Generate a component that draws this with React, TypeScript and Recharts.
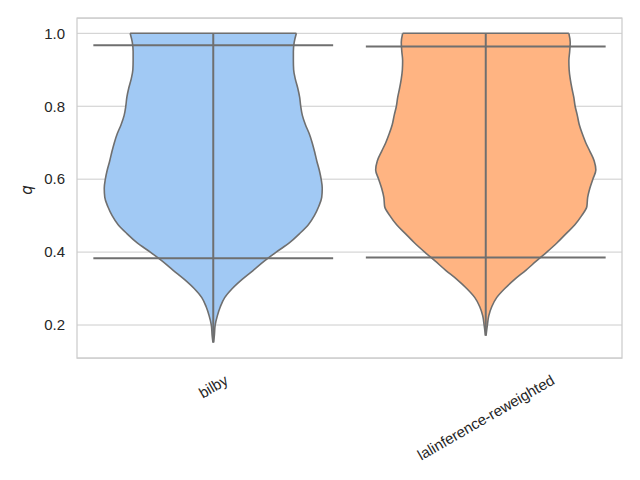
import React from 'react';
import {
  ComposedChart,
  Area,
  XAxis,
  YAxis,
  CartesianGrid,
  ReferenceLine,
  ReferenceArea,
  Label,
} from 'recharts';

// violin categories (x positions 0 and 1)
const categories = ['bilby', 'lalinference-reweighted'];
const fills = ['#a1c9f4', '#ffb482'];

const qGrid = [
  0.152, 0.171, 0.2, 0.225, 0.25, 0.275, 0.3, 0.325, 0.35, 0.375, 0.4, 0.425,
  0.45, 0.475, 0.5, 0.525, 0.55, 0.575, 0.6, 0.625, 0.65, 0.675, 0.7, 0.725,
  0.75, 0.775, 0.8, 0.825, 0.85, 0.875, 0.9, 0.925, 0.95, 0.975, 1.0,
];

// half-widths of each violin (x-axis units)
const bilbyWidth = [
  0.001, 0.004, 0.007, 0.015, 0.026, 0.042, 0.07, 0.106, 0.147, 0.187, 0.231,
  0.279, 0.316, 0.349, 0.371, 0.387, 0.398, 0.4, 0.396, 0.389, 0.38, 0.372,
  0.363, 0.352, 0.338, 0.327, 0.321, 0.317, 0.31, 0.301, 0.295, 0.294, 0.294,
  0.297, 0.305,
];
const laliWidth = [
  null, 0.001, 0.006, 0.011, 0.022, 0.04, 0.07, 0.106, 0.147, 0.185, 0.224,
  0.261, 0.294, 0.327, 0.352, 0.371, 0.374, 0.382, 0.393, 0.404, 0.398, 0.383,
  0.367, 0.354, 0.343, 0.336, 0.328, 0.323, 0.316, 0.31, 0.306, 0.305, 0.308,
  0.31, 0.305,
];

// sample range (min, max) and interval lines for each violin
const qRange = [
  [0.152, 1.0],
  [0.171, 1.0],
];
const intervals = [
  [0.383, 0.967],
  [0.385, 0.964],
];
const intervalHalfWidth = 0.44;

const yTicks = [0.2, 0.4, 0.6, 0.8, 1.0];
const yDomain = [0.1095, 1.042];
const xDomain = [-0.5, 1.5];

const widths = [bilbyWidth, laliWidth];
const data = qGrid.map((q, i) => {
  const row: any = { q };
  widths.forEach((w, k) => {
    const hw = w[i];
    row['v' + k] = hw == null ? [null, null] : [k - hw, k + hw];
  });
  return row;
});

const EDGE = '#6f6f6f';
const TEXT = '#262626';
const FONT = '"Liberation Sans", Arial, sans-serif';
const FS = 15;

let ctx: CanvasRenderingContext2D | null = null;
function textWidth(s: string) {
  if (!ctx) ctx = document.createElement('canvas').getContext('2d');
  if (!ctx) return s.length * FS * 0.5;
  ctx.font = `${FS}px "Liberation Sans"`;
  return ctx.measureText(s).width;
}

function CategoryTick(props: any) {
  const { x, y, payload } = props;
  const label = categories[Math.round(payload.value)];
  if (!label) return null;
  const w = textWidth(label);
  const halfH = (w * 0.5 + FS * 1.15 * 0.866) / 2;
  const cy = y + 13 + halfH;
  return (
    <text
      x={x}
      y={cy}
      textAnchor="middle"
      dominantBaseline="central"
      fontSize={FS}
      fontFamily={FONT}
      fill={TEXT}
      transform={`rotate(-30, ${x}, ${cy})`}
    >
      {label}
    </text>
  );
}

function QLabel(props: any) {
  const vb = props.viewBox;
  const x = vb.x + 10;
  const y = vb.y + vb.height / 2 + 2;
  return (
    <text
      x={x}
      y={y}
      textAnchor="middle"
      dominantBaseline="central"
      fontSize={15}
      fontStyle="italic"
      fontFamily='"DejaVu Sans", sans-serif'
      fill={TEXT}
      transform={`rotate(-90, ${x}, ${y})`}
    >
      q
    </text>
  );
}

export default function App() {
  return (
    <div style={{ position: 'absolute', left: 0, top: 0, width: 640, height: 480, background: '#fff' }}>
      <ComposedChart
        width={640}
        height={480}
        data={data}
        layout="vertical"
        margin={{ top: 18, right: 18, bottom: 18, left: 17 }}
      >
        <CartesianGrid vertical={false} stroke="#cccccc" strokeWidth={1} />
        <XAxis
          type="number"
          domain={xDomain}
          ticks={[0, 1]}
          interval={0}
          allowDataOverflow
          axisLine={false}
          tickLine={false}
          tickSize={0}
          tickMargin={0}
          height={104}
          tick={<CategoryTick />}
        />
        <YAxis
          type="number"
          dataKey="q"
          domain={yDomain}
          ticks={yTicks}
          allowDataOverflow
          reversed
          width={60}
          axisLine={false}
          tickLine={false}
          tickSize={0}
          tickMargin={12}
          tickFormatter={(v: number) => v.toFixed(1)}
          tick={{ fontSize: FS, fontFamily: FONT, fill: TEXT }}
        >
          <Label content={<QLabel />} />
        </YAxis>
        <ReferenceArea
          x1={xDomain[0]}
          x2={xDomain[1]}
          y1={yDomain[0]}
          y2={yDomain[1]}
          fill="none"
          stroke="#cccccc"
          strokeWidth={1.25}
          ifOverflow="visible"
        />
        {categories.map((c, k) => (
          <Area
            key={c}
            dataKey={'v' + k}
            type="monotone"
            fill={fills[k]}
            fillOpacity={1}
            stroke={EDGE}
            strokeWidth={1.6}
            isAnimationActive={false}
            activeDot={false}
            dot={false}
          />
        ))}
        {categories.map((c, k) => {
          const top = widths[k][widths[k].length - 1] as number;
          return (
            <ReferenceLine
              key={c + '-top'}
              segment={[
                { x: k - top, y: qRange[k][1] },
                { x: k + top, y: qRange[k][1] },
              ]}
              stroke={EDGE}
              strokeWidth={1.6}
              ifOverflow="visible"
            />
          );
        })}
        {categories.map((c, k) => (
          <ReferenceLine
            key={c + '-stick'}
            segment={[
              { x: k, y: qRange[k][0] },
              { x: k, y: qRange[k][1] },
            ]}
            stroke={EDGE}
            strokeWidth={2}
            ifOverflow="visible"
          />
        ))}
        {categories.map((c, k) =>
          intervals[k].map((v, j) => (
            <ReferenceLine
              key={c + '-int' + j}
              segment={[
                { x: k - intervalHalfWidth, y: v },
                { x: k + intervalHalfWidth, y: v },
              ]}
              stroke={EDGE}
              strokeWidth={2}
              ifOverflow="visible"
            />
          ))
        )}
      </ComposedChart>
    </div>
  );
}
